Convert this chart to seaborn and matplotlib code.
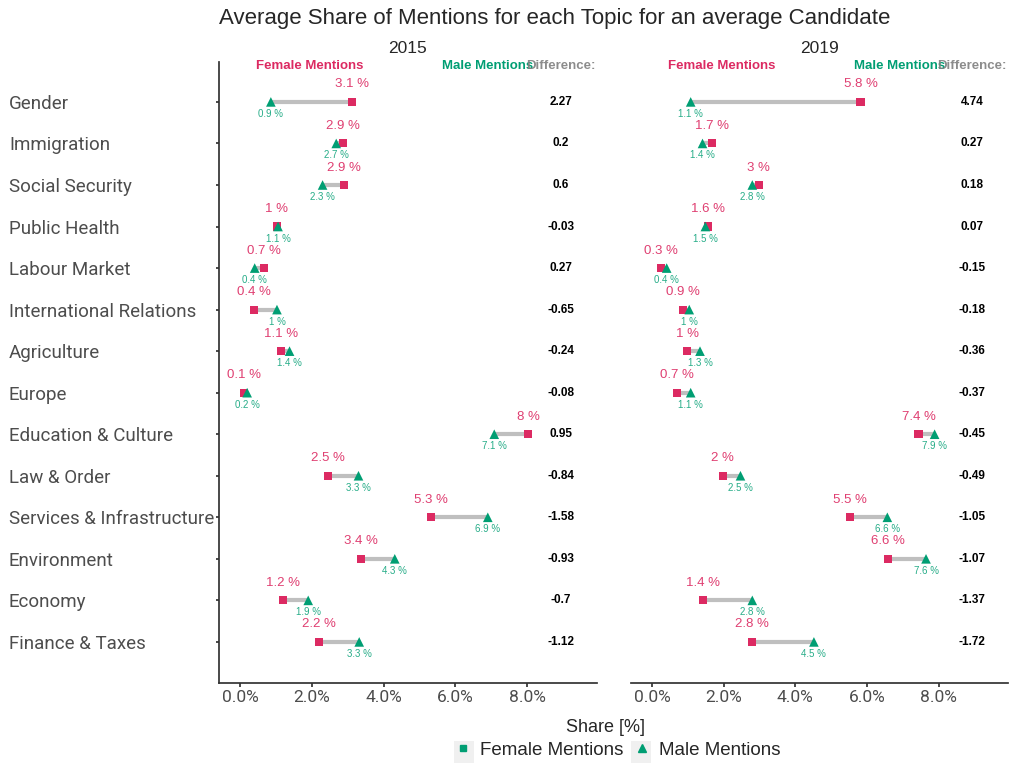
import numpy as np
import pandas as pd
import seaborn as sns
import matplotlib.pyplot as plt
from matplotlib.lines import Line2D
from matplotlib.patches import Rectangle

# 数据
topics = ['Gender', 'Immigration', 'Social Security', 'Public Health', 'Labour Market',
          'International Relations', 'Agriculture', 'Europe', 'Education & Culture',
          'Law & Order', 'Services & Infrastructure', 'Environment', 'Economy',
          'Finance & Taxes']

female_2015 = [3.13, 2.88, 2.90, 1.03, 0.68, 0.38, 1.14, 0.12, 8.03, 2.46, 5.32, 3.38, 1.20, 2.20]
male_2015 = [0.86, 2.68, 2.30, 1.06, 0.41, 1.03, 1.38, 0.20, 7.08, 3.30, 6.90, 4.31, 1.90, 3.32]
diff_2015 = ['2.27', '0.2', '0.6', '-0.03', '0.27', '-0.65', '-0.24', '-0.08', '0.95',
             '-0.84', '-1.58', '-0.93', '-0.7', '-1.12']

female_2019 = [5.82, 1.68, 2.98, 1.56, 0.26, 0.86, 0.98, 0.71, 7.44, 1.98, 5.52, 6.58, 1.43, 2.80]
male_2019 = [1.08, 1.41, 2.80, 1.49, 0.41, 1.04, 1.34, 1.08, 7.89, 2.47, 6.57, 7.65, 2.80, 4.52]
diff_2019 = ['4.74', '0.27', '0.18', '0.07', '-0.15', '-0.18', '-0.36', '-0.37', '-0.45',
             '-0.49', '-1.05', '-1.07', '-1.37', '-1.72']

female_lab_2015 = ['3.1', '2.9', '2.9', '1', '0.7', '0.4', '1.1', '0.1', '8', '2.5', '5.3', '3.4', '1.2', '2.2']
male_lab_2015 = ['0.9', '2.7', '2.3', '1.1', '0.4', '1', '1.4', '0.2', '7.1', '3.3', '6.9', '4.3', '1.9', '3.3']
female_lab_2019 = ['5.8', '1.7', '3', '1.6', '0.3', '0.9', '1', '0.7', '7.4', '2', '5.5', '6.6', '1.4', '2.8']
male_lab_2019 = ['1.1', '1.4', '2.8', '1.5', '0.4', '1', '1.3', '1.1', '7.9', '2.5', '6.6', '7.6', '2.8', '4.5']

years = ['2015', '2019']

pink = '#dc2a62'
green = '#009e73'
grey_line = '#bfbfbf'

rows = []
for yr, fem, mal in [('2015', female_2015, male_2015), ('2019', female_2019, male_2019)]:
    for i, t in enumerate(topics):
        rows.append({'year': yr, 'topic': t, 'pos': i, 'gender': 'Female Mentions', 'share': fem[i]})
        rows.append({'year': yr, 'topic': t, 'pos': i, 'gender': 'Male Mentions', 'share': mal[i]})
df = pd.DataFrame(rows)

sns.set_theme(style='white')
plt.rcParams['font.family'] = ['Liberation Sans', 'DejaVu Sans']

fig = plt.figure(figsize=(10.17, 7.63), dpi=100)
ax1 = fig.add_axes([0.2153, 0.1048, 0.3717, 0.8139])
ax2 = fig.add_axes([0.6205, 0.1048, 0.3707, 0.8139])

labs = {'2015': (female_lab_2015, male_lab_2015, diff_2015),
        '2019': (female_lab_2019, male_lab_2019, diff_2019)}

for ax, yr in zip([ax1, ax2], years):
    d = df[df.year == yr]
    fem = d[d.gender == 'Female Mentions'].set_index('pos')['share']
    mal = d[d.gender == 'Male Mentions'].set_index('pos')['share']
    ax.hlines(fem.index, fem.values, mal.values, color=grey_line, lw=3, zorder=1)
    sns.scatterplot(data=d, x='share', y='pos', hue='gender', style='gender',
                    markers={'Female Mentions': 's', 'Male Mentions': '^'},
                    palette={'Female Mentions': pink, 'Male Mentions': green},
                    size='gender', sizes={'Female Mentions': 34, 'Male Mentions': 48},
                    edgecolor='none', legend=False, ax=ax, zorder=3)
    fl, ml, dl = labs[yr]
    for i in range(len(topics)):
        ax.text(fem[i], i - 0.42, fl[i] + ' %', color=pink, alpha=0.9, fontsize=9.5,
                ha='center', va='center')
        ax.text(mal[i], i + 0.29, ml[i] + ' %', color=green, alpha=0.85, fontsize=7,
                ha='center', va='center')
        ax.text(8.94, i, dl[i], color='black', fontsize=8.5, fontweight='bold',
                ha='center', va='center')
    ax.text(1.95, -0.87, 'Female Mentions', color=pink, fontsize=9.5, fontweight='bold',
            ha='center', va='center')
    ax.text(6.9, -0.87, 'Male Mentions', color=green, fontsize=9.5, fontweight='bold',
            ha='center', va='center')
    ax.text(8.94, -0.87, 'Difference:', color='grey', fontsize=9.5, fontweight='bold',
            ha='center', va='center', alpha=0.9)

    ax.set_xlim(-0.585, 9.94)
    ax.set_ylim(13.99, -0.96)
    ax.set_xticks([0, 2, 4, 6, 8])
    ax.set_xticklabels(['0.0%', '2.0%', '4.0%', '6.0%', '8.0%'], color='#4d4d4d',
                       fontsize=12.5, family='Roboto')
    ax.set_xlabel('')
    ax.set_ylabel('')
    ax.set_title(yr, fontsize=12.5, pad=6.5)
    for s in ['top', 'right']:
        ax.spines[s].set_visible(False)
    ax.spines['bottom'].set_color('#333333')
    ax.tick_params(axis='x', bottom=True, length=3, color='#333333', pad=2)

ax1.set_yticks(range(len(topics)))
ax1.set_yticklabels(topics, color='#4d4d4d', fontsize=13.5, family='Roboto', ha='left')
ax1.spines['left'].set_color('#333333')
ax1.tick_params(axis='y', left=True, length=2, color='#333333', pad=149.2)
ax2.set_yticks([])
ax2.spines['left'].set_visible(False)

fig.text(0.545, 0.976, 'Average Share of Mentions for each Topic for an average Candidate',
         ha='center', va='center', fontsize=16)
fig.text(0.595, 0.047, 'Share [%]', ha='center', va='center', fontsize=13)

# 图例 (灰色底的图例键)
for x0 in [454, 631]:
    fig.patches.append(Rectangle((x0 / 1017, 0.0), 20 / 1017, 22 / 763,
                                 transform=fig.transFigure, facecolor='#f0f0f0',
                                 edgecolor='none', zorder=0))
handles = [Line2D([], [], marker='s', color=green, ls='none', markersize=5),
           Line2D([], [], marker='^', color=green, ls='none', markersize=6)]
fig.legend(handles, ['Female Mentions', 'Male Mentions'], loc='center', ncol=2,
           bbox_to_anchor=(0.6067, 0.0165), frameon=False, fontsize=13.5,
           handlelength=1.0, handletextpad=0.42, columnspacing=0.46)

fig.savefig('out.png', dpi=100)
